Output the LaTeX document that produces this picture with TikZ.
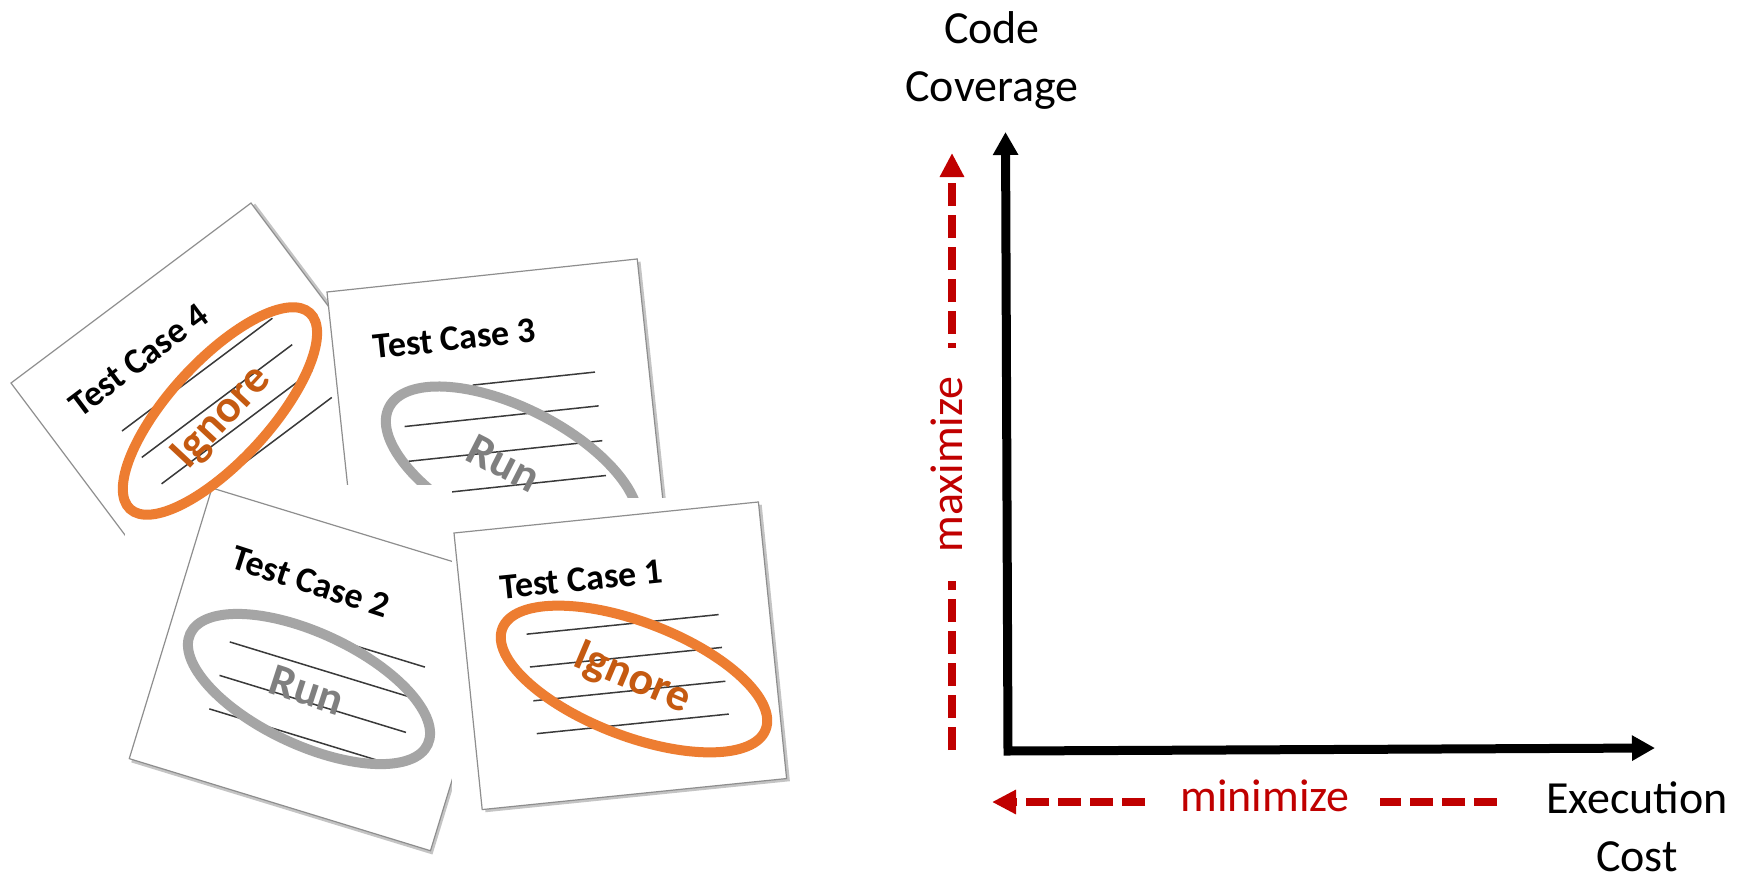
\documentclass[tikz,border=0pt]{standalone}
\usepackage{fontspec}
\setmainfont{Carlito}
\usetikzlibrary{arrows.meta}

\definecolor{goalred}{HTML}{C00000}
\definecolor{markorange}{HTML}{ED7D31}
\definecolor{ignoretext}{HTML}{C55A11}
\definecolor{markgray}{HTML}{A5A5A5}
\definecolor{runtext}{HTML}{7F7F7F}
\definecolor{cardedge}{HTML}{8E8E8E}
\definecolor{cardshadow}{HTML}{C4C4C4}
\definecolor{ruleline}{HTML}{3A3A3A}

\tikzset{
  card/.style={fill=white, draw=cardedge, line width=1.2pt},
  cardshade/.style={fill=cardshadow},
  rule/.style={draw=ruleline, line width=1.5pt},
  cardtitle/.style={font=\fontsize{36}{42}\selectfont\bfseries, inner sep=0pt},
  runmark/.style={draw=markgray, line width=10pt},
  ignoremark/.style={draw=markorange, line width=10pt},
  runlabel/.style={font=\fontsize{46}{52}\selectfont\bfseries, text=runtext, inner sep=0pt},
  ignorelabel/.style={font=\fontsize{46}{52}\selectfont\bfseries, text=ignoretext, inner sep=0pt},
  axis/.style={line width=9pt, line join=miter,
    {Triangle[length=23pt,width=24pt]}-{Triangle[length=23pt,width=24pt]}},
  goal/.style={draw=goalred, line width=8.5pt, dash pattern=on 23.3pt off 8.7pt,
    -{Triangle[length=24pt,width=23pt]}},
  axislabel/.style={font=\fontsize{46}{58}\selectfont, align=center},
  goallabel/.style={font=\fontsize{46}{58}\selectfont, text=goalred, fill=white},
}

\begin{document}
\begin{tikzpicture}[x=1pt, y=-1pt]
\useasboundingbox (0,0) rectangle (1746,876);

% ---- Test Case 4 (bottom of the pile)
\begin{scope}[shift={(11,383)}, rotate=36.87]
  \fill[cardshade] (3,3) rectangle (303,303);
  \draw[card] (0,0) rectangle (300,300);
  \node[cardtitle, rotate=36.87] (title4) at (116,58) {Test Case 4};
  \foreach \t in {105,138,171,204} \draw[rule] (60,\t) -- (248,\t);
\end{scope}

% ---- Test Case 3
\begin{scope}[shift={(327,292)}, rotate=6.08]
  \fill[cardshade] (3,3) rectangle (315,288);
  \draw[card] (0,0) rectangle (312,285);
  \node[cardtitle, rotate=6.08] (title3) at (122,60) {Test Case 3};
  \draw[rule] (135,108) -- (258,108);
  \foreach \t in {142,177,212} \draw[rule] (63,\t) -- (258,\t);
\end{scope}
\coordinate (c3) at (512,470);
\draw[runmark, rotate around={-27:(c3)}] (c3) ellipse [x radius=138pt, y radius=62pt];
\node[runlabel, rotate=-27] (run3) at (504,463) {Run};

% white backing of the Test Case 2 sheet
\fill[white] (125,485) rectangle (452,876);

% ---- Test Case 2
\begin{scope}[shift={(212,488)}, rotate=-17]
  \fill[cardshade] (3,3) rectangle (318,286);
  \draw[card] (0,0) rectangle (315,283);
  \node[cardtitle, rotate=-18] (title2) at (122,61) {Test Case 2};
  \draw[rule] (97,109) -- (256,109);
  \foreach \t in {142,177,212} \draw[rule] (62,\t) -- (257,\t);
\end{scope}
\coordinate (c2) at (309,689);
\draw[runmark, rotate around={-25:(c2)}] (c2) ellipse [x radius=131pt, y radius=56pt];
\node[runlabel, rotate=-18] (run2) at (307,690) {Run};

% mark on Test Case 4
\coordinate (c4) at (220,411);
\draw[ignoremark, rotate around={47.5:(c4)}] (c4) ellipse [x radius=133pt, y radius=50pt];
\node[ignorelabel, rotate=47] (ign4) at (222,418) {Ignore};

% white backing of the Test Case 1 sheet
\fill[white] (452,498) rectangle (800,876);

% ---- Test Case 1 (top of the pile)
\begin{scope}[shift={(454,533)}, rotate=5.82]
  \fill[cardshade] (3,3) rectangle (309,281);
  \draw[card] (0,0) rectangle (306,278);
  \node[cardtitle, rotate=5.82] (title1) at (122,59) {Test Case 1};
  \foreach \t in {108,141,175,208} \draw[rule] (62,\t) -- (255,\t);
\end{scope}
\coordinate (c1) at (634,679);
\draw[ignoremark, rotate around={-21:(c1)}] (c1) ellipse [x radius=141pt, y radius=57pt];
\node[ignorelabel, rotate=-23] (ign1) at (632,679) {Ignore};

% ---- trade-off chart
\coordinate (ytip) at (1005.5,132);
\coordinate (origin) at (1008,751);
\coordinate (xtip) at (1655,748);
\draw[axis] (ytip) -- (origin) -- (xtip);

\coordinate (maxstart) at (952,750);
\coordinate (maxend) at (952,153);
\draw[goal] (maxstart) -- (maxend);
\node[goallabel, rotate=90, anchor=base, minimum width=233pt] (maxlbl) at (962,464.5) {maximize};

\coordinate (minstart) at (1497,802);
\coordinate (minend) at (992,802);
\draw[goal] (minstart) -- (minend);
\node[goallabel, anchor=base, minimum width=229pt] (minlbl) at (1265,811) {minimize};

% multi-line labels: the base anchor sits on the last line
\node[axislabel, anchor=base] (ylabel) at (992,101) {Code\\Coverage};
\node[axislabel, anchor=base] (xlabel) at (1637,871) {Execution\\Cost};
\end{tikzpicture}
\end{document}
